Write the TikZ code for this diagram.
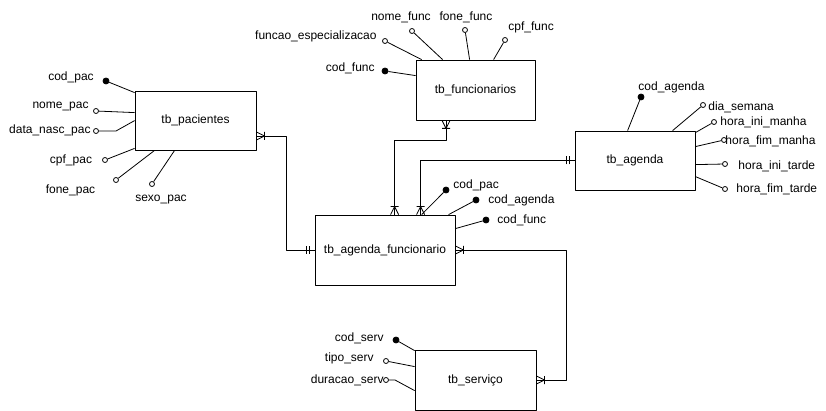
\documentclass[tikz,border=0pt]{standalone}
\usepackage{fontspec}
\setmainfont{Liberation Sans}
\usetikzlibrary{calc}
\begin{document}
\begin{tikzpicture}[x=1pt, y=-1pt, line width=0.8pt, line join=round, font=\fontsize{12}{14}\selectfont,
	entity/.style={draw, inner sep=0pt},
	attr/.style={circle, draw, inner sep=0pt, minimum size=5pt},
	keyattr/.style={circle, draw, fill=black, inner sep=0pt, minimum size=6pt},
	lbl/.style={inner sep=0pt},
	manyone/.pic={\draw (0,-4)--(8,0)--(0,4) (8,-4)--(8,4);},
	oneone/.pic={\draw (5,-4)--(5,4) (8,-4)--(8,4);}]
	\useasboundingbox (0,0) rectangle (826,411);
	% tabelas
	\node[entity, minimum width=121pt, minimum height=59pt] (pac) at (195.5,120.5) {tb\_pacientes};
	\node[entity, minimum width=119pt, minimum height=60pt] (func) at (475.5,90) {tb\_funcionarios};
	\node[entity, minimum width=120pt, minimum height=59pt] (agenda) at (635,160.5) {tb\_agenda};
	\node[entity, minimum width=140pt, minimum height=70pt] (agfunc) at (385,250) {tb\_agenda\_funcionario};
	\node[entity, minimum width=121pt, minimum height=60pt] (serv) at (475.5,380) {tb\_serviço};
	% tb_pacientes
	\node[keyattr] (cpac) at (106,81) {};
	\node[attr] (npac) at (96,111) {};
	\node[attr] (dnpac) at (96,131) {};
	\node[attr] (cpfpac) at (105,160) {};
	\node[attr] (fpac) at (116,180) {};
	\node[attr] (spac) at (152,184) {};
	\draw (cpac) -- ($(pac.north west)+(0,2)$);
	\draw (npac) -- ($(pac.north west)+(0,22)$);
	\draw (dnpac) -- ++(20,0) -- ($(pac.north west)+(0,30)$);
	\draw (cpfpac) -- ($(pac.south west)+(0,-2)$);
	\draw (fpac) -- ($(pac.south west)+(20,0)$);
	\draw (spac) -- ($(pac.south west)+(40,0)$);
	\path
	(71,80.6) node[lbl, anchor=base] (lcpac) {cod\_pac}
	(89,108.2) node[lbl, anchor=base east] (lnpac) {nome\_pac}
	(91,133.6) node[lbl, anchor=base east] (ldnpac) {data\_nasc\_pac}
	(71,163.6) node[lbl, anchor=base] (lcpfpac) {cpf\_pac}
	(70.5,193.6) node[lbl, anchor=base] (lfpac) {fone\_pac}
	(161,201.2) node[lbl, anchor=base] (lspac) {sexo\_pac}
	;
	% tb_funcionarios
	\node[keyattr] (cfunc) at (385,71) {};
	\node[attr] (fesp) at (385,41) {};
	\node[attr] (nfunc) at (412,31) {};
	\node[attr] (ffunc) at (465,30) {};
	\node[attr] (cpffunc) at (505,40) {};
	\draw (cfunc) -- ($(func.north west)+(0,16)$);
	\draw (fesp) -- ($(func.north west)+(6,0)$);
	\draw (nfunc) -- ($(func.north west)+(27,0)$);
	\draw (ffunc) -- ($(func.north west)+(54,0)$);
	\draw (cpffunc) -- ($(func.north west)+(78,0)$);
	\path
	(375,71.6) node[lbl, anchor=base east] (lcfunc) {cod\_func}
	(377,39.6) node[lbl, anchor=base east] (lfesp) {funcao\_especializacao}
	(401,20.6) node[lbl, anchor=base] (lnfunc) {nome\_func}
	(466,20.6) node[lbl, anchor=base] (lffunc) {fone\_func}
	(508,30.6) node[lbl, anchor=base west] (lcpffunc) {cpf\_func}
	;
	% tb_agenda
	\node[keyattr] (cag) at (641,97) {};
	\node[attr] (dsem) at (703,105) {};
	\node[attr] (himanha) at (714,122) {};
	\node[attr] (hfmanha) at (724,140) {};
	\node[attr] (hitarde) at (725,164) {};
	\node[attr] (hftarde) at (725,189) {};
	\draw (cag) -- ($(agenda.north west)+(53,0)$);
	\draw (dsem) -- ($(agenda.north west)+(98,0)$);
	\draw (himanha) -- ($(agenda.north east)+(0,2)$);
	\draw (hfmanha) -- ($(agenda.north east)+(0,16)$);
	\draw (hitarde) -- ($(agenda.north east)+(0,34)$);
	\draw (hftarde) -- ($(agenda.north east)+(0,46)$);
	\path
	(638,90.6) node[lbl, anchor=base west] (lcag) {cod\_agenda}
	(708,110.6) node[lbl, anchor=base west] (ldsem) {dia\_semana}
	(720,125.6) node[lbl, anchor=base west] (lhimanha) {hora\_ini\_manha}
	(725,144.6) node[lbl, anchor=base west] (lhfmanha) {hora\_fim\_manha}
	(738,169.6) node[lbl, anchor=base west] (lhitarde) {hora\_ini\_tarde}
	(736,192.6) node[lbl, anchor=base west] (lhftarde) {hora\_fim\_tarde}
	;
	% tb_agenda_funcionario
	\node[keyattr] (afpac) at (446,190) {};
	\node[keyattr] (afag) at (476,200) {};
	\node[keyattr] (affunc) at (486,220) {};
	\draw (afpac) -- ($(agfunc.north west)+(107,0)$);
	\draw (afag) -- ($(agfunc.north west)+(134,0)$);
	\draw (affunc) -- ($(agfunc.north east)+(0,14)$);
	\path
	(453,188.6) node[lbl, anchor=base west] (lafpac) {cod\_pac}
	(488,203.6) node[lbl, anchor=base west] (lafag) {cod\_agenda}
	(497,223.6) node[lbl, anchor=base west] (laffunc) {cod\_func}
	;
	% tb_serviço
	\node[keyattr] (cserv) at (396,340) {};
	\node[attr] (tserv) at (386,361) {};
	\node[attr] (dserv) at (386,380) {};
	\draw (cserv) -- ($(serv.north west)+(0,1)$);
	\draw (tserv) -- ($(serv.north west)+(0,17)$);
	\draw (dserv) -- ++(9,0) -- ($(serv.north west)+(0,41)$);
	\path
	(384,341.6) node[lbl, anchor=base east] (lcserv) {cod\_serv}
	(374,361) node[lbl, anchor=base east] (ltserv) {tipo\_serv}
	(384,383.6) node[lbl, anchor=base east] (ldserv) {duracao\_serv}
	;
	% relacionamentos
	\coordinate (pacr) at ($(pac.east)+(0,15.5)$);
	\coordinate (funcb) at ($(func.south)+(-29.5,0)$);
	\coordinate (aftop1) at ($(agfunc.north west)+(80,0)$);
	\coordinate (aftop2) at ($(agfunc.north west)+(106,0)$);
	\draw (pacr) -- ++(30,0) |- (agfunc.west);
	\draw (funcb) -- ++(0,20) -| (aftop1);
	\draw (agenda.west) -| (aftop2);
	\draw (agfunc.east) -- ++(111,0) |- (serv.east);
	\pic at (pacr) {manyone};
	\pic[rotate=180] at (agfunc.west) {oneone};
	\pic[rotate=-90] at (funcb) {manyone};
	\pic[rotate=90] at (aftop1) {manyone};
	\pic[rotate=180] at (agenda.west) {oneone};
	\pic[rotate=90] at (aftop2) {manyone};
	\pic at (agfunc.east) {manyone};
	\pic at (serv.east) {manyone};
\end{tikzpicture}
\end{document}
